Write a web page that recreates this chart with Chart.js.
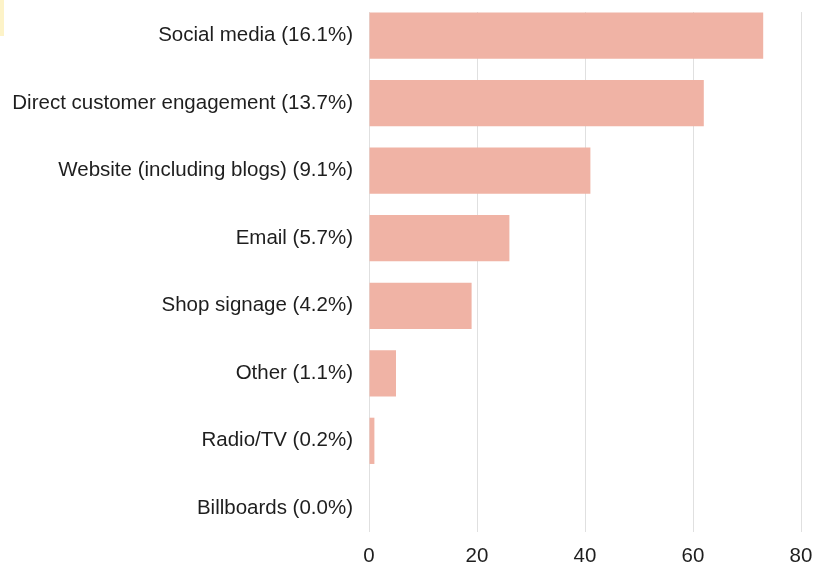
<!DOCTYPE html>
<html>
<head>
<meta charset="utf-8">
<script src="https://cdn.jsdelivr.net/npm/chart.js@4"></script>
<style>
body{margin:0;background:#fff;}
#wrap{position:relative;width:828px;height:564px;}
#tab{position:absolute;left:0;top:0;width:4px;height:36px;background:#fdf3c8;}
</style>
</head>
<body>
<div id="wrap">
<canvas id="channelChart" width="828" height="564"></canvas>
<div id="tab"></div>
</div>

<script>

const channels = [
"Social media (16.1%)",
"Direct customer engagement (13.7%)",
"Website (including blogs) (9.1%)",
"Email (5.7%)",
"Shop signage (4.2%)",
"Other (1.1%)",
"Radio/TV (0.2%)",
"Billboards (0.0%)"
]

const counts = [73, 62, 41, 26, 19, 5, 1, 0]

const xTicks = [0, 20, 40, 60, 80]


// bars sit on a linear index axis so the top/bottom padding can be less than half a band
let points = counts.map((v,i)=>({x:v, y:i}))

const labelFont = {family:"Liberation Sans",size:20.5}

new Chart(document.getElementById("channelChart"),{

type:"bar",

data:{
datasets:[{
data:points,
backgroundColor:"#f0b3a5",
borderWidth:0,
barPercentage:0.685,
categoryPercentage:1
}]
},

options:{
indexAxis:"y",
responsive:false,
animation:false,
layout:{padding:{top:12,right:0,bottom:0,left:0}},
plugins:{
legend:{display:false},
tooltip:{enabled:false}
},
scales:{
x:{
type:"linear",
min:0,
max:85,
afterBuildTicks:scale=>{
scale.ticks=xTicks.map(v=>({value:v}))
},
afterFit:scale=>{
scale.height=32
scale.paddingLeft=0
scale.paddingRight=0
},
grid:{color:"#e0e0e0",lineWidth:1,drawTicks:false},
border:{display:false},
ticks:{color:"#1e1e1e",padding:12,font:labelFont}
},
y:{
type:"linear",
offset:false,
reverse:true,
min:-0.35,
max:channels.length-1+0.35,
afterBuildTicks:scale=>{
scale.ticks=channels.map((c,i)=>({value:i}))
},
afterFit:scale=>{
// labels stay well inside the band, so no extra room above/below
scale.width=369
scale.paddingTop=0
scale.paddingBottom=0
},
grid:{display:false,drawTicks:false},
border:{display:false},
ticks:{
color:"#1e1e1e",
padding:16,
autoSkip:false,
font:labelFont,
callback:v=>channels[v]
}
}
}
}

})

</script>
</body>
</html>
